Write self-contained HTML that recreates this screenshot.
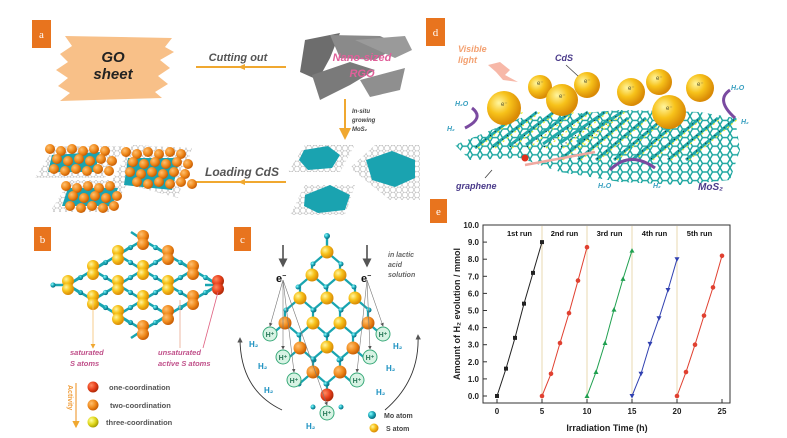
<!DOCTYPE html>
<html><head><meta charset="utf-8"><style>
html,body{margin:0;padding:0;background:#fff;}
svg{display:block;font-family:"Liberation Sans",sans-serif;}
</style></head><body>
<svg id="s" width="787" height="438" viewBox="0 0 787 438" xmlns="http://www.w3.org/2000/svg">
<defs>
<pattern id="hex" width="6" height="5.2" patternUnits="userSpaceOnUse">
<path d="M0,2.6 L1.5,0 L4.5,0 L6,2.6 L4.5,5.2 L1.5,5.2 Z" fill="none" stroke="#aaa" stroke-width="0.5"/>
</pattern>
<pattern id="thex" width="10" height="8.6" patternUnits="userSpaceOnUse">
<path d="M0,4.3 L2.5,0 L7.5,0 L10,4.3 L7.5,8.6 L2.5,8.6 Z" fill="none" stroke="#1aa59f" stroke-width="1.4"/>
</pattern>
<radialGradient id="gy" cx="35%" cy="35%" r="65%"><stop offset="0" stop-color="#fff6a0"/><stop offset="0.5" stop-color="#f7c21a"/><stop offset="1" stop-color="#d98a05"/></radialGradient>
<radialGradient id="go" cx="35%" cy="35%" r="65%"><stop offset="0" stop-color="#ffc070"/><stop offset="0.6" stop-color="#f08a1c"/><stop offset="1" stop-color="#c95f05"/></radialGradient>
<radialGradient id="gr" cx="35%" cy="35%" r="65%"><stop offset="0" stop-color="#ff8a60"/><stop offset="0.6" stop-color="#e8401c"/><stop offset="1" stop-color="#b02a08"/></radialGradient>
<radialGradient id="gyl" cx="35%" cy="35%" r="65%"><stop offset="0" stop-color="#ffffa0"/><stop offset="0.6" stop-color="#e0d81a"/><stop offset="1" stop-color="#a8a005"/></radialGradient>
<radialGradient id="gt" cx="35%" cy="35%" r="65%"><stop offset="0" stop-color="#8ff"/><stop offset="0.6" stop-color="#19a3b5"/><stop offset="1" stop-color="#0a6f80"/></radialGradient>
<marker id="ah" markerWidth="6" markerHeight="6" refX="5" refY="3" orient="auto"><path d="M0,0 L6,3 L0,6 Z" fill="#555"/></marker>
<marker id="ao" markerWidth="6" markerHeight="6" refX="5" refY="3" orient="auto"><path d="M0,0 L6,3 L0,6 Z" fill="#f0a830"/></marker>
</defs>

<rect x="32" y="20" width="19" height="28" fill="#e8741e"/><text x="41.5" y="38" fill="#fff" font-size="11" text-anchor="middle" font-family="Liberation Serif">a</text>
<rect x="426" y="18" width="19" height="28" fill="#e8741e"/><text x="435.5" y="36" fill="#fff" font-size="11" text-anchor="middle" font-family="Liberation Serif">d</text>
<rect x="34" y="227" width="17" height="24" fill="#e8741e"/><text x="42.5" y="243" fill="#fff" font-size="11" text-anchor="middle" font-family="Liberation Serif">b</text>
<rect x="234" y="227" width="17" height="24" fill="#e8741e"/><text x="242.5" y="243" fill="#fff" font-size="11" text-anchor="middle" font-family="Liberation Serif">c</text>
<rect x="430" y="199" width="17" height="24" fill="#e8741e"/><text x="438.5" y="215" fill="#fff" font-size="11" text-anchor="middle" font-family="Liberation Serif">e</text>

<!-- Panel a -->
<path d="M65,36 L172,38 L165,47 L174,52 L160,60 L170,68 L158,76 L168,84 L155,92 L162,98 L60,101 L70,93 L58,86 L68,78 L56,70 L68,62 L60,54 L72,46 Z" fill="#f8c088"/>
<text x="113" y="62" font-size="15" font-weight="bold" font-style="italic" fill="#222" text-anchor="middle">GO</text>
<text x="113" y="79" font-size="15" font-weight="bold" font-style="italic" fill="#222" text-anchor="middle">sheet</text>
<text x="238" y="61" font-size="11" font-weight="bold" font-style="italic" fill="#555" text-anchor="middle">Cutting out</text>
<line x1="196" y1="67" x2="286" y2="67" stroke="#f0a830" stroke-width="2"/>
<path d="M245,64 L238,67 L245,70 Z" fill="#f0a830"/>
<path d="M305,40 L340,33 L330,58 L318,80 L300,72 Z" fill="#6d6d6d"/>
<path d="M330,35 L380,36 L400,45 L375,60 L340,58 Z" fill="#8a8a8a"/>
<path d="M355,40 L405,36 L412,50 L395,58 Z" fill="#9a9a9a"/>
<path d="M312,75 L350,62 L375,70 L350,85 L320,100 Z" fill="#7a7a7a"/>
<path d="M360,80 L405,68 L400,90 L370,97 Z" fill="#8f8f8f"/>
<text x="362" y="61" font-size="11" font-weight="bold" font-style="italic" fill="#e0609a" text-anchor="middle">Nano-sized</text>
<text x="362" y="77" font-size="11" font-weight="bold" font-style="italic" fill="#e0609a" text-anchor="middle">RGO</text>
<line x1="345" y1="99" x2="345" y2="138" stroke="#f0a830" stroke-width="2" marker-end="url(#ao)"/>
<text x="352" y="113" font-size="6" font-weight="bold" font-style="italic" fill="#444">In-situ</text>
<text x="352" y="122" font-size="6" font-weight="bold" font-style="italic" fill="#444">growing</text>
<text x="352" y="131" font-size="6" font-weight="bold" font-style="italic" fill="#444">MoS₂</text>
<path d="M288,172 L305,145 L355,145 L340,172 Z" fill="url(#hex)"/>
<path d="M304,150 L328,146 L340,155 L332,168 L308,170 L299,160 Z" fill="#1aa3b0"/>
<path d="M350,168 L375,145 L420,145 L420,200 L390,200 Z" fill="url(#hex)"/>
<path d="M366,160 L392,151 L415,160 L415,178 L395,187 L372,180 Z" fill="#1aa3b0"/>
<path d="M290,215 L305,185 L355,185 L345,215 Z" fill="url(#hex)"/>
<path d="M305,195 L330,185 L350,195 L345,210 L318,213 L304,206 Z" fill="#1aa3b0"/>
<text x="242" y="176" font-size="12" font-weight="bold" font-style="italic" fill="#555" text-anchor="middle">Loading CdS</text>
<line x1="196" y1="182" x2="286" y2="182" stroke="#f0a830" stroke-width="2"/>
<path d="M245,179 L238,182 L245,185 Z" fill="#f0a830"/>
<path d="M35,178 L55,146 L125,146 L105,178 Z" fill="url(#hex)"/>
<path d="M112,180 L132,145 L192,148 L178,198 Z" fill="url(#hex)"/>
<path d="M50,212 L70,180 L130,180 L110,212 Z" fill="url(#hex)"/>
<path d="M52,155 L100,152 L95,172 L48,172 Z" fill="#1aa3b0"/>
<path d="M128,158 L180,158 L172,190 L124,185 Z" fill="#1aa3b0"/>
<path d="M68,188 L118,188 L112,206 L62,206 Z" fill="#1aa3b0"/>
<g id="balls"></g>

<!-- Panel d -->
<path d="M455,145 L520,118 L620,110 L700,112 L735,118 L740,150 L730,180 L680,185 L620,182 L560,172 L520,158 L470,160 Z" fill="url(#thex)"/>
<g id="mos2d"></g>
<g id="dballs"></g>
<text x="458" y="52" font-size="9" font-weight="bold" font-style="italic" fill="#f3a070">Visible</text>
<text x="458" y="63" font-size="9" font-weight="bold" font-style="italic" fill="#f3a070">light</text>
<path d="M488,65 L500,62 L510,70 L505,75 L518,82 L503,80 L496,72 Z" fill="#f7b8a8"/>
<text x="555" y="61" font-size="9" font-weight="bold" font-style="italic" fill="#4a3a8a">CdS</text>
<line x1="566" y1="65" x2="578" y2="76" stroke="#444" stroke-width="0.8"/>
<text x="455" y="106" font-size="7" font-weight="bold" font-style="italic" fill="#3aa0c0">H₂O</text>
<text x="447" y="131" font-size="7" font-weight="bold" font-style="italic" fill="#3aa0c0">H₂</text>
<path d="M472,108 Q485,118 465,128" fill="none" stroke="#7a4aa0" stroke-width="3"/>
<text x="731" y="90" font-size="7" font-weight="bold" font-style="italic" fill="#3aa0c0">H₂O</text>
<text x="741" y="124" font-size="7" font-weight="bold" font-style="italic" fill="#3aa0c0">H₂</text>
<path d="M730,90 Q715,100 735,118" fill="none" stroke="#7a4aa0" stroke-width="3"/>
<path d="M610,170 Q630,150 655,168" fill="none" stroke="#7a4aa0" stroke-width="3"/>
<text x="598" y="188" font-size="7" font-weight="bold" font-style="italic" fill="#3aa0c0">H₂O</text>
<text x="653" y="188" font-size="7" font-weight="bold" font-style="italic" fill="#3aa0c0">H₂</text>
<text x="456" y="189" font-size="9" font-weight="bold" font-style="italic" fill="#4a3a8a">graphene</text>
<line x1="485" y1="178" x2="492" y2="170" stroke="#444" stroke-width="0.8"/>
<text x="698" y="190" font-size="10" font-weight="bold" font-style="italic" fill="#4a3a8a">MoS₂</text>
<path d="M525,165 L595,152" stroke="#f0a8a0" stroke-width="2.5" fill="none"/>
<circle cx="525" cy="158" r="3.5" fill="#e0301c"/>

<!-- Panel b -->
<g id="latb"></g>
<line x1="93" y1="300" x2="93" y2="348" stroke="#f5c070" stroke-width="0.8" marker-end="url(#ao)"/>
<line x1="180" y1="300" x2="180" y2="348" stroke="#e8a890" stroke-width="0.8"/>
<line x1="218" y1="292" x2="203" y2="348" stroke="#e06080" stroke-width="0.8"/>
<text x="70" y="355" font-size="7.5" font-weight="bold" font-style="italic" fill="#c0508a">saturated</text>
<text x="70" y="366" font-size="7.5" font-weight="bold" font-style="italic" fill="#c0508a">S atoms</text>
<text x="158" y="355" font-size="7.5" font-weight="bold" font-style="italic" fill="#c0508a">unsaturated</text>
<text x="158" y="366" font-size="7.5" font-weight="bold" font-style="italic" fill="#c0508a">active S atoms</text>
<circle cx="93" cy="387" r="5.5" fill="url(#gr)"/>
<circle cx="93" cy="405" r="5.5" fill="url(#go)"/>
<circle cx="93" cy="422" r="5.5" fill="url(#gyl)"/>
<text x="109" y="390" font-size="7.5" font-weight="bold" fill="#555">one-coordination</text>
<text x="110" y="408" font-size="7.5" font-weight="bold" fill="#555">two-coordination</text>
<text x="106" y="425" font-size="7.5" font-weight="bold" fill="#555">three-coordination</text>
<line x1="76" y1="383" x2="76" y2="427" stroke="#f0a040" stroke-width="1.2" marker-end="url(#ao)"/>
<text transform="translate(68,385) rotate(90)" font-size="7" font-weight="bold" fill="#f0a040">Activity</text>

<!-- Panel c -->
<g id="latc"></g>
<line x1="283" y1="245" x2="283" y2="266" stroke="#444" stroke-width="1.5" marker-end="url(#ah)"/>
<line x1="367" y1="245" x2="367" y2="266" stroke="#444" stroke-width="1.5" marker-end="url(#ah)"/>
<text x="276" y="282" font-size="11" font-weight="bold" fill="#111">e<tspan font-size="7" dy="-4">−</tspan></text>
<text x="361" y="282" font-size="11" font-weight="bold" fill="#111">e<tspan font-size="7" dy="-4">−</tspan></text>
<text x="388" y="257" font-size="7" font-weight="bold" font-style="italic" fill="#666">in lactic</text>
<text x="388" y="267" font-size="7" font-weight="bold" font-style="italic" fill="#666">acid</text>
<text x="388" y="277" font-size="7" font-weight="bold" font-style="italic" fill="#666">solution</text>
<path d="M282,410 Q240,390 240,338" fill="none" stroke="#333" stroke-width="0.9" marker-end="url(#ah)"/>
<path d="M385,410 Q420,380 418,335" fill="none" stroke="#333" stroke-width="0.9" marker-end="url(#ah)"/>
<circle cx="372" cy="415" r="4" fill="url(#gt)"/>
<circle cx="374" cy="428" r="4.5" fill="url(#gy)"/>
<text x="384" y="418" font-size="7" font-weight="bold" fill="#444">Mo atom</text>
<text x="386" y="431" font-size="7" font-weight="bold" fill="#444">S atom</text>

<g id="plot"></g>
</svg>
<script>
const NS="http://www.w3.org/2000/svg";
function el(p,t,a,txt){const e=document.createElementNS(NS,t);for(const k in a)e.setAttribute(k,a[k]);if(txt!==undefined)e.textContent=txt;document.getElementById(p).appendChild(e);return e;}
const bA=[[50,149,6,3],[126,152,6,4],[66,186,5,3]];
bA.forEach(([x0,y0,cols,rows])=>{for(let r=0;r<rows;r++)for(let c=0;c<cols;c++){const x=x0+c*11+r*2+(r%2)*5,y=y0+r*10+(c%2)*2;el("balls","circle",{cx:x,cy:y,r:5,fill:"url(#go)"});}});
for(let i=0;i<7;i++){const x=475+i*17;el("mos2d","line",{x1:x,y1:148-i,x2:x+45,y2:112,stroke:"#2aa","stroke-width":3});el("mos2d","line",{x1:x+3,y1:148,x2:x+48,y2:112,stroke:"#ee3","stroke-width":1.2,"stroke-dasharray":"2 3"});el("mos2d","line",{x1:x+1,y1:147,x2:x+46,y2:111,stroke:"#111","stroke-width":1,"stroke-dasharray":"1 5"});}
for(let i=0;i<8;i++){const x=560+i*18;el("mos2d","line",{x1:x,y1:160,x2:x+50,y2:118,stroke:"#2aa","stroke-width":3});el("mos2d","line",{x1:x+3,y1:160,x2:x+53,y2:118,stroke:"#ee3","stroke-width":1.2,"stroke-dasharray":"2 3"});el("mos2d","line",{x1:x+1,y1:159,x2:x+51,y2:117,stroke:"#111","stroke-width":1,"stroke-dasharray":"1 5"});}
[[504,108,17],[540,87,12],[562,100,16],[587,85,13],[631,92,14],[659,82,13],[700,88,14],[669,112,17]].forEach(([x,y,r])=>{el("dballs","circle",{cx:x,cy:y,r:r,fill:"url(#gy)"});el("dballs","text",{x:x-3,y:y-2,"font-size":6,fill:"#553"},"e⁻");});
// panel b honeycomb
const counts=[1,2,3,4,3,2,1];
const pts=[];
counts.forEach((n,c)=>{const x=68+c*25;for(let k=0;k<n;k++){const y=285+(k-(n-1)/2)*30;pts.push([x,y,c,k,n]);}});
const TE="#1aa5b0";
pts.forEach(a=>pts.forEach(b=>{if(b[2]==a[2]+1&&Math.abs(b[1]-a[1])==15){el("latb","line",{x1:a[0],y1:a[1],x2:b[0],y2:b[1],stroke:TE,"stroke-width":2.5});}}));
// vertical Mo bonds connecting through middle of hexagons
pts.forEach(([x,y,c])=>{const mx=x+12.5;[[-7.5],[7.5]].forEach(([d])=>{});});
pts.forEach(a=>pts.forEach(b=>{if(b[2]==a[2]+1&&Math.abs(b[1]-a[1])==15){const mx=(a[0]+b[0])/2,my=(a[1]+b[1])/2;el("latb","circle",{cx:mx,cy:my,r:2.6,fill:"url(#gt)"});}}));
// dangling bonds at edges
pts.forEach(([x,y,c,k,n])=>{if(k==0){el("latb","line",{x1:x,y1:y,x2:x+(c<3?12:-12),y2:y-8,stroke:TE,"stroke-width":2.5});}if(k==n-1){el("latb","line",{x1:x,y1:y,x2:x+(c<3?12:-12),y2:y+8,stroke:TE,"stroke-width":2.5});}});
el("latb","line",{x1:53,y1:285,x2:68,y2:285,stroke:TE,"stroke-width":2.5});
el("latb","line",{x1:205,y1:285,x2:218,y2:285,stroke:TE,"stroke-width":2.5});
el("latb","circle",{cx:53,cy:285,r:2.6,fill:"url(#gt)"});
pts.forEach(([x,y,c,k,n])=>{let f="url(#gy)";if(c==6)f="url(#gr)";else if(c>=3&&(k==0||k==n-1))f="url(#go)";el("latb","circle",{cx:x,cy:y-4,r:6,fill:f});el("latb","circle",{cx:x,cy:y+4,r:6,fill:f});});
// panel c
const C=[[327,252,"y"],[312,275,"y"],[340,275,"y"],[300,298,"y"],[327,298,"y"],[355,298,"y"],[285,323,"o"],[313,323,"y"],[340,323,"y"],[368,323,"o"],[300,348,"o"],[327,347,"y"],[353,348,"o"],[313,372,"o"],[340,372,"o"],[327,395,"r"]];
C.forEach(([x,y])=>{[[-14,12],[14,12],[0,-13]].forEach(([dx,dy])=>{if(y+dy<400)el("latc","line",{x1:x,y1:y,x2:x+dx,y2:y+dy,stroke:TE,"stroke-width":2.2});});});
el("latc","line",{x1:327,y1:236,x2:327,y2:252,stroke:TE,"stroke-width":2.2});
el("latc","circle",{cx:327,cy:236,r:3,fill:"url(#gt)"});
C.forEach(([x,y])=>{[[-14,12],[14,12]].forEach(([dx,dy])=>el("latc","circle",{cx:x+dx,cy:y+dy,r:2.5,fill:"url(#gt)"}));});
C.forEach(([x,y,t])=>el("latc","circle",{cx:x,cy:y,r:6.5,fill:t=="y"?"url(#gy)":t=="o"?"url(#go)":"url(#gr)"}));
const H=[[270,334,253,344,"l"],[383,334,397,346,"r"],[283,357,262,366,"l"],[370,357,390,368,"r"],[294,380,268,390,"l"],[357,380,380,392,"r"],[327,413,310,426,"l"]];
H.forEach(([x,y,hx,hy,s])=>{const src=s=="l"?[283,280]:[367,280];el("latc","line",{x1:src[0],y1:src[1],x2:x,y2:y-8,stroke:"#777","stroke-width":0.6,"marker-end":"url(#ah)"});el("latc","circle",{cx:x,cy:y,r:7,fill:"#d8f3e4",stroke:"#3aaa7a","stroke-width":1});el("latc","text",{x:x,y:y+3,"font-size":7,"font-weight":"bold",fill:"#2a7a5a","text-anchor":"middle"},"H⁺");el("latc","text",{x:hx-4,y:hy+3,"font-size":8,"font-weight":"bold",fill:"#1a90c0"},"H₂");});
// panel e
const X0=497,SX=9,Y0=396,SY=17.1;
el("plot","rect",{x:483,y:225,width:247,height:178,fill:"none",stroke:"#333","stroke-width":1});
[5,10,15,20].forEach(v=>el("plot","line",{x1:X0+v*SX,y1:226,x2:X0+v*SX,y2:402,stroke:"#ead9b0","stroke-width":1}));
for(let v=0;v<=10;v++){const y=Y0-v*SY;el("plot","line",{x1:483,y1:y,x2:487,y2:y,stroke:"#333"});el("plot","text",{x:479,y:y+3,"font-size":8,"font-weight":"bold",fill:"#222","text-anchor":"end"},v.toFixed(1));}
for(let v=0;v<=25;v+=5){const x=X0+v*SX;el("plot","line",{x1:x,y1:403,x2:x,y2:399,stroke:"#333"});el("plot","text",{x:x,y:414,"font-size":8,"font-weight":"bold",fill:"#222","text-anchor":"middle"},String(v));}
el("plot","text",{x:607,y:431,"font-size":9,"font-weight":"bold",fill:"#222","text-anchor":"middle"},"Irradiation Time (h)");
el("plot","text",{transform:"translate(460,314) rotate(-90)","font-size":9,"font-weight":"bold",fill:"#222","text-anchor":"middle"},"Amount of H₂ evolution / mmol");
const runs=[["1st run","#222",[0,1.6,3.4,5.4,7.2,9.0],"s"],["2nd run","#e04030",[0,1.3,3.1,4.85,6.75,8.7],"c"],["3rd run","#20a050",[0,1.4,3.1,5.05,6.85,8.5],"t"],["4th run","#3040b0",[0,1.3,3.05,4.55,6.2,8.0],"v"],["5th run","#e04030",[0,1.4,3.0,4.7,6.35,8.2],"c"]];
runs.forEach(([n,col,vals,m],i)=>{el("plot","text",{x:X0+(i*5+2.5)*SX,y:236,"font-size":7.5,"font-weight":"bold",fill:"#111","text-anchor":"middle"},n);
el("plot","polyline",{points:vals.map((v,j)=>(X0+(i*5+j)*SX)+","+(Y0-v*SY)).join(" "),fill:"none",stroke:col,"stroke-width":1});
vals.forEach((v,j)=>{const x=X0+(i*5+j)*SX,y=Y0-v*SY;if(m=="s")el("plot","rect",{x:x-2,y:y-2,width:4,height:4,fill:col});else if(m=="c")el("plot","circle",{cx:x,cy:y,r:2.3,fill:col});else if(m=="t")el("plot","path",{d:"M"+x+","+(y-2.5)+" L"+(x+2.5)+","+(y+2)+" L"+(x-2.5)+","+(y+2)+"Z",fill:col});else el("plot","path",{d:"M"+x+","+(y+2.5)+" L"+(x+2.5)+","+(y-2)+" L"+(x-2.5)+","+(y-2)+"Z",fill:col});});});
</script>
</body></html>
